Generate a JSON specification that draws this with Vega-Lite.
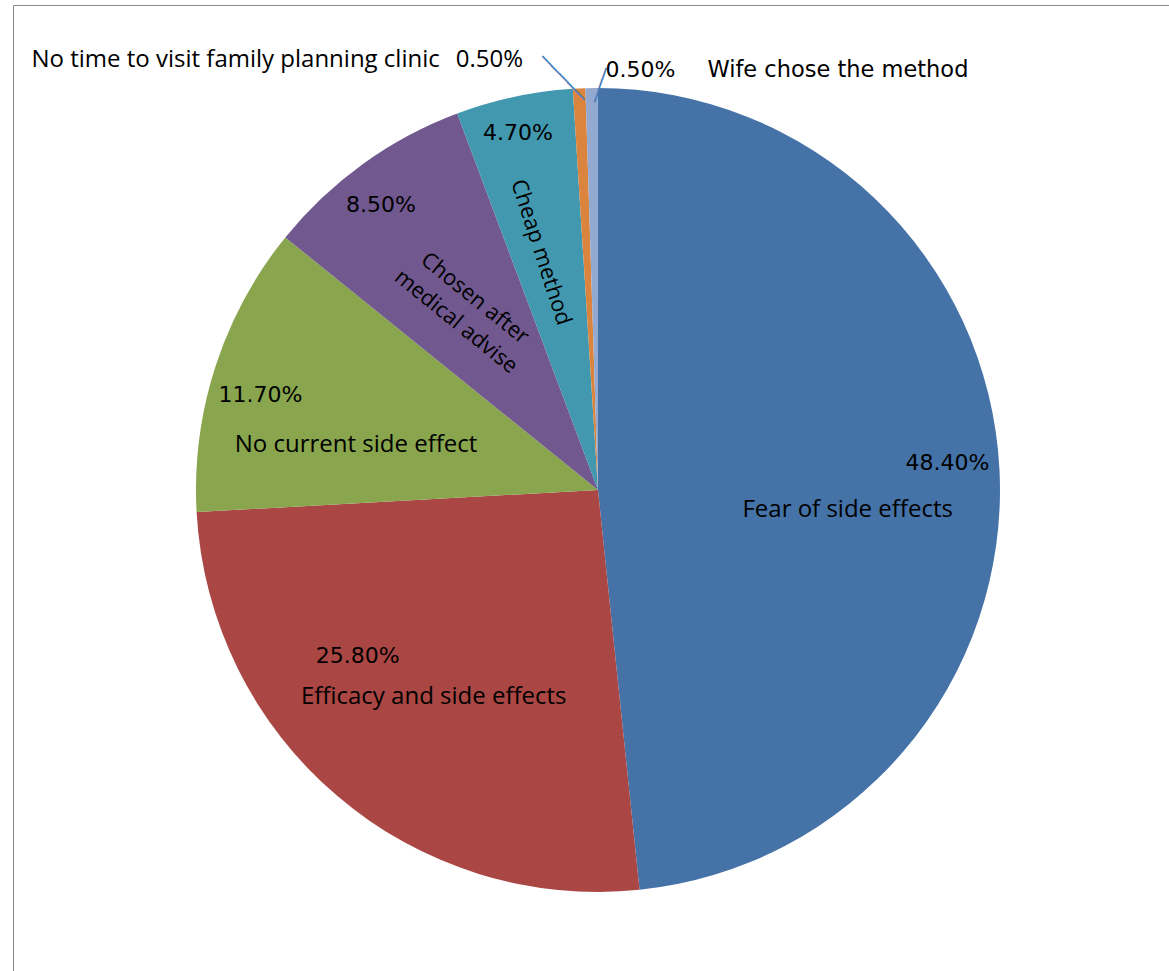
{
  "$schema": "https://vega.github.io/schema/vega-lite/v6.json",
  "width": 1170,
  "height": 970,
  "autosize": {"type": "none"},
  "padding": {"left": 13, "top": 5, "right": -14, "bottom": -4},
  "background": "white",
  "view": {"stroke": "#8a8a8a", "strokeWidth": 1},
  "config": {"view": {"stroke": "#8a8a8a", "strokeWidth": 1}, "style": {"cell": {"stroke": "#8a8a8a", "strokeWidth": 1}}},
  "data": {
    "values": [
      {"reason": "Fear of side effects", "share": 0.484, "rank": 1},
      {"reason": "Efficacy and side effects", "share": 0.258, "rank": 2},
      {"reason": "No current side effect", "share": 0.117, "rank": 3},
      {"reason": "Chosen after medical advise", "share": 0.085, "rank": 4},
      {"reason": "Cheap method", "share": 0.047, "rank": 5},
      {"reason": "No time to visit family planning clinic", "share": 0.005, "rank": 6},
      {"reason": "Wife chose the method", "share": 0.005, "rank": 7}
    ]
  },
  "encoding": {
    "theta": {"field": "share", "type": "quantitative", "stack": true},
    "order": {"field": "rank", "type": "quantitative"}
  },
  "layer": [
    {
      "mark": {"type": "arc", "outerRadius": 402},
      "encoding": {
        "color": {
          "field": "reason",
          "type": "nominal",
          "legend": null,
          "scale": {
            "domain": ["Fear of side effects", "Efficacy and side effects", "No current side effect", "Chosen after medical advise", "Cheap method", "No time to visit family planning clinic", "Wife chose the method"],
            "range": ["#4572A7", "#AA4643", "#89A54E", "#71588F", "#4198AF", "#DB843D", "#93A9CF"]
          }
        }
      }
    },
    {
      "mark": {"type": "text", "radius": 350, "dy": -9, "font": "DejaVu Sans", "fontSize": 22, "color": "#000", "align": "center", "baseline": "middle"},
      "encoding": {"text": {"condition": {"test": "datum.rank === 1", "field": "share", "format": ".2%"}, "value": ""}}
    },
    {
      "mark": {"type": "text", "radius": 250, "dy": 33, "font": "Open Sans", "fontSize": 24, "color": "#000", "align": "center", "baseline": "middle"},
      "encoding": {"text": {"condition": {"test": "datum.rank === 1", "field": "reason"}, "value": ""}}
    },
    {
      "mark": {"type": "text", "radius": 250, "dx": -78, "dy": -24, "font": "DejaVu Sans", "fontSize": 22, "color": "#000", "align": "center", "baseline": "middle"},
      "encoding": {"text": {"condition": {"test": "datum.rank === 2", "field": "share", "format": ".2%"}, "value": ""}}
    },
    {
      "mark": {"type": "text", "radius": 250, "dx": -2, "dy": 17, "font": "Open Sans", "fontSize": 24, "color": "#000", "align": "center", "baseline": "middle"},
      "encoding": {"text": {"condition": {"test": "datum.rank === 2", "field": "reason"}, "value": ""}}
    },
    {
      "mark": {"type": "text", "radius": 300, "dx": -52, "dy": -3, "font": "DejaVu Sans", "fontSize": 22, "color": "#000", "align": "center", "baseline": "middle"},
      "encoding": {"text": {"condition": {"test": "datum.rank === 3", "field": "share", "format": ".2%"}, "value": ""}}
    },
    {
      "mark": {"type": "text", "radius": 250, "dx": -4, "dy": 32, "font": "Open Sans", "fontSize": 24, "color": "#000", "align": "center", "baseline": "middle"},
      "encoding": {"text": {"condition": {"test": "datum.rank === 3", "field": "reason"}, "value": ""}}
    },
    {
      "mark": {"type": "text", "radius": 330, "dx": -24, "dy": -17, "font": "DejaVu Sans", "fontSize": 22, "color": "#000", "align": "center", "baseline": "middle"},
      "encoding": {"text": {"condition": {"test": "datum.rank === 4", "field": "share", "format": ".2%"}, "value": ""}}
    },
    {
      "mark": {"type": "text", "radius": 220, "angle": 39, "dx": -4, "dy": -14, "lineHeight": 30, "font": "Open Sans", "fontSize": 22, "color": "#000", "align": "center", "baseline": "middle"},
      "encoding": {"text": {"condition": {"test": "datum.rank === 4", "value": ["Chosen after", "medical advise"]}, "value": ""}}
    },
    {
      "mark": {"type": "text", "radius": 360, "dx": -5, "dy": -5, "font": "DejaVu Sans", "fontSize": 22, "color": "#000", "align": "center", "baseline": "middle"},
      "encoding": {"text": {"condition": {"test": "datum.rank === 5", "field": "share", "format": ".2%"}, "value": ""}}
    },
    {
      "mark": {"type": "text", "radius": 245, "angle": 72, "dy": 6, "font": "Open Sans", "fontSize": 22, "color": "#000", "align": "center", "baseline": "middle"},
      "encoding": {"text": {"condition": {"test": "datum.rank === 5", "field": "reason"}, "value": ""}}
    },
    {
      "mark": {"type": "text", "radius": 430, "dx": -138, "font": "Open Sans", "fontSize": 24, "color": "#000", "align": "right", "baseline": "middle"},
      "encoding": {"text": {"condition": {"test": "datum.rank === 6", "field": "reason"}, "value": ""}}
    },
    {
      "mark": {"type": "text", "radius": 430, "dx": -122, "font": "Open Sans", "fontSize": 24, "color": "#000", "align": "left", "baseline": "middle"},
      "encoding": {"text": {"condition": {"test": "datum.rank === 6", "field": "share", "format": ".2%"}, "value": ""}}
    },
    {
      "mark": {"type": "text", "radius": 412, "angle": 46, "dx": -11, "dy": 11.5, "font": "DejaVu Sans", "fontSize": 20, "color": "#4a7ebb", "align": "center", "baseline": "middle"},
      "encoding": {"text": {"condition": {"test": "datum.rank === 6", "value": "─────"}, "value": ""}}
    },
    {
      "mark": {"type": "text", "radius": 420, "dx": 14, "font": "DejaVu Sans", "fontSize": 22, "color": "#000", "align": "left", "baseline": "middle"},
      "encoding": {"text": {"condition": {"test": "datum.rank === 7", "field": "share", "format": ".2%"}, "value": ""}}
    },
    {
      "mark": {"type": "text", "radius": 420, "dx": 116, "font": "DejaVu Sans", "fontSize": 22.5, "color": "#000", "align": "left", "baseline": "middle"},
      "encoding": {"text": {"condition": {"test": "datum.rank === 7", "field": "reason"}, "value": ""}}
    },
    {
      "mark": {"type": "text", "radius": 405, "angle": 289, "dx": 3, "dy": 9, "font": "DejaVu Sans", "fontSize": 20, "color": "#4a7ebb", "align": "center", "baseline": "middle"},
      "encoding": {"text": {"condition": {"test": "datum.rank === 7", "value": "───"}, "value": ""}}
    }
  ]
}
